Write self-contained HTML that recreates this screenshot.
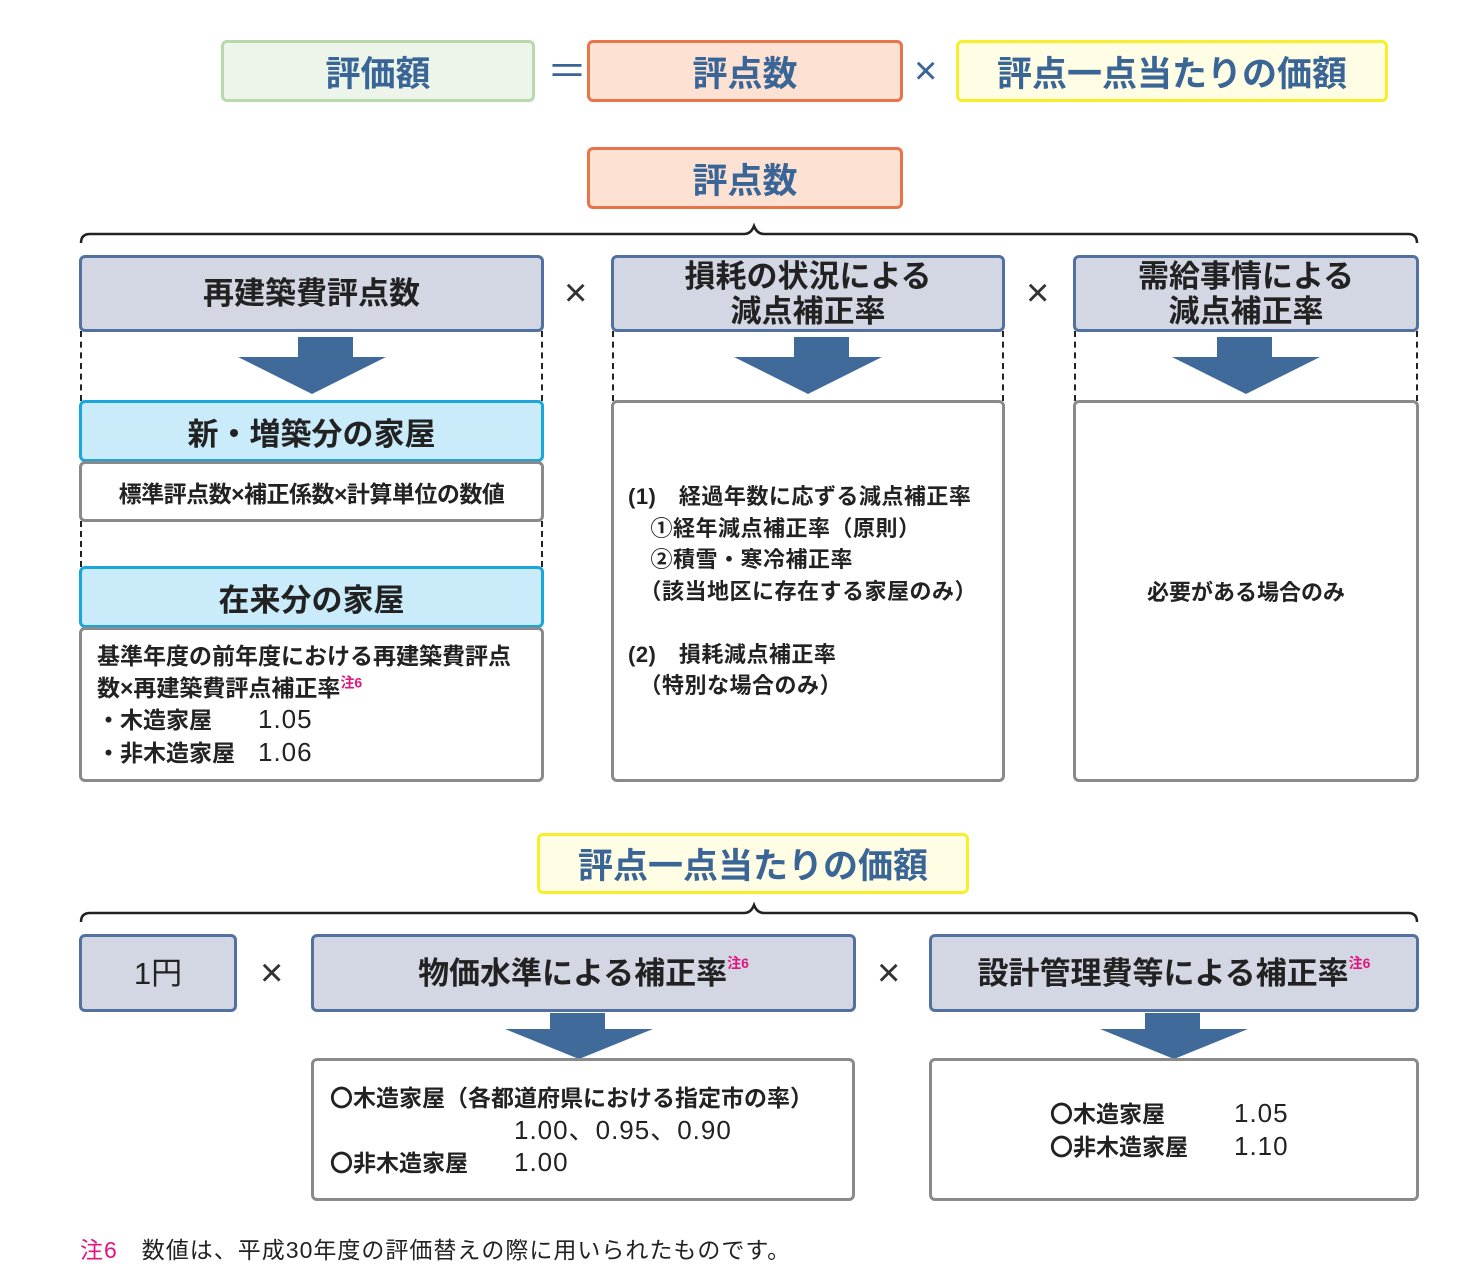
<!DOCTYPE html>
<html><head><meta charset="utf-8">
<style>
body{margin:0;width:1482px;height:1288px;background:#fff;position:relative;overflow:hidden;font-family:"Liberation Sans","Noto Sans CJK JP",sans-serif;}
.b{position:absolute;box-sizing:border-box;border-radius:6px;display:flex;align-items:center;justify-content:center;text-align:center;font-weight:bold;color:#222;}
.hdr{color:#3a6597;font-size:35px;}
.g{background:#edf5ea;border:3px solid #b7d9ab;}
.o{background:#fde1d3;border:3px solid #e8744a;}
.y{background:#fffde3;border:3px solid #f7ef2a;}
.p{background:#d3d6e3;border:3px solid #5371a0;font-size:31px;line-height:35px;}
.c{background:#c9ebfa;border:3px solid #1aa6dc;font-size:31px;}
.w{background:#fff;border:3px solid #8a8a8a;font-size:23px;}
.op{position:absolute;font-size:40px;color:#333;line-height:40px;}
.dv{position:absolute;width:0;border-left:2px dashed #222;}
.t{position:absolute;font-size:23px;font-weight:bold;color:#222;line-height:31.5px;white-space:pre;}
.n{font-weight:normal;font-size:26px;letter-spacing:1px;}
sup{color:#e0157f;font-size:14px;line-height:0;}
</style></head><body>
<div class="b g hdr" style="left:221px;top:40px;width:314px;height:62px;">評価額</div>
<div class="op" style="left:547px;top:52px;color:#3a6597;">＝</div>
<div class="b o hdr" style="left:587px;top:40px;width:316px;height:62px;">評点数</div>
<div class="op" style="left:914px;top:51px;color:#3a6597;">×</div>
<div class="b y hdr" style="left:956px;top:40px;width:432px;height:62px;">評点一点当たりの価額</div>
<div class="b o hdr" style="left:587px;top:147px;width:316px;height:62px;">評点数</div>

<svg style="position:absolute;left:0;top:0" width="1482" height="1288">
<g fill="none" stroke="#222" stroke-width="2.5">
<path d="M81 243 Q81 234 90 234 L744 234 Q751 234 754 226 Q757 234 764 234 L1408 234 Q1417 234 1417 243"/>
<path d="M81 922 Q81 913 90 913 L744 913 Q751 913 754 905 Q757 913 764 913 L1408 913 Q1417 913 1417 922"/>
</g>
<g fill="#3f6a9a">
<path d="M298 337h55v20h33l-74 37-74-37h60z"/>
<path d="M794 337h55v20h33l-74 37-74-37h60z"/>
<path d="M1217 337h55v20h48l-74 37-74-37h45z"/>
<path d="M550 1013h55v16h48l-74 30-74-30h45z"/>
<path d="M1145 1013h55v16h48l-74 30-74-30h45z"/>
</g>
</svg>
<div class="dv" style="left:80px;top:331px;height:70px"></div>
<div class="dv" style="left:541px;top:331px;height:70px"></div>
<div class="dv" style="left:80px;top:521px;height:46px"></div>
<div class="dv" style="left:541px;top:521px;height:46px"></div>
<div class="dv" style="left:612px;top:331px;height:70px"></div>
<div class="dv" style="left:1002px;top:331px;height:70px"></div>
<div class="dv" style="left:1074px;top:331px;height:70px"></div>
<div class="dv" style="left:1416px;top:331px;height:70px"></div>

<div class="b p" style="left:79px;top:255px;width:465px;height:77px;">再建築費評点数</div>
<div class="op" style="left:564px;top:273px;">×</div>
<div class="b p" style="left:611px;top:255px;width:394px;height:77px;">損耗の状況による<br>減点補正率</div>
<div class="op" style="left:1026px;top:273px;">×</div>
<div class="b p" style="left:1073px;top:255px;width:346px;height:77px;">需給事情による<br>減点補正率</div>

<div class="b c" style="left:79px;top:400px;width:465px;height:62px;">新・増築分の家屋</div>
<div class="b w" style="left:79px;top:461px;width:465px;height:61px;letter-spacing:-0.5px;">標準評点数×補正係数×計算単位の数値</div>
<div class="b c" style="left:79px;top:566px;width:465px;height:62px;">在来分の家屋</div>
<div class="b w" style="left:79px;top:627px;width:465px;height:155px;"></div>
<div class="t" style="left:97px;top:641px;">基準年度の前年度における再建築費評点
数×再建築費評点補正率<sup>注6</sup>
・木造家屋　　<span class="n">1.05</span>
・非木造家屋　<span class="n">1.06</span></div>

<div class="b w" style="left:611px;top:400px;width:394px;height:382px;"></div>
<div class="t" style="left:628px;top:481px;font-size:22px;letter-spacing:0.5px;">(1)　経過年数に応ずる減点補正率
　①経年減点補正率（原則）
　②積雪・寒冷補正率
　（該当地区に存在する家屋のみ）

(2)　損耗減点補正率
　（特別な場合のみ）</div>
<div class="b w" style="left:1073px;top:400px;width:346px;height:382px;font-size:22px;">必要がある場合のみ</div>

<div class="b y hdr" style="left:537px;top:833px;width:432px;height:61px;">評点一点当たりの価額</div>
<div class="b p" style="left:79px;top:934px;width:158px;height:78px;font-weight:normal;">1円</div>
<div class="op" style="left:260px;top:953px;">×</div>
<div class="b p" style="left:311px;top:934px;width:545px;height:78px;">物価水準による補正率<sup style="position:relative;top:-10px">注6</sup></div>
<div class="op" style="left:877px;top:953px;">×</div>
<div class="b p" style="left:929px;top:934px;width:490px;height:78px;">設計管理費等による補正率<sup style="position:relative;top:-10px">注6</sup></div>

<div class="b w" style="left:311px;top:1058px;width:544px;height:143px;"></div>
<div class="t" style="left:330px;top:1083px;">〇木造家屋（各都道府県における指定市の率）
　　　　　　　　<span class="n">1.00、0.95、0.90</span>
〇非木造家屋　　<span class="n">1.00</span></div>
<div class="b w" style="left:929px;top:1058px;width:490px;height:143px;"></div>
<div class="t" style="left:1050px;top:1098px;">〇木造家屋　　　<span class="n">1.05</span>
〇非木造家屋　　<span class="n">1.10</span></div>

<div style="position:absolute;left:80px;top:1231px;font-size:23px;color:#222;letter-spacing:1px;"><span style="color:#e0157f">注6</span>　数値は、平成30年度の評価替えの際に用いられたものです。</div>
</body></html>
